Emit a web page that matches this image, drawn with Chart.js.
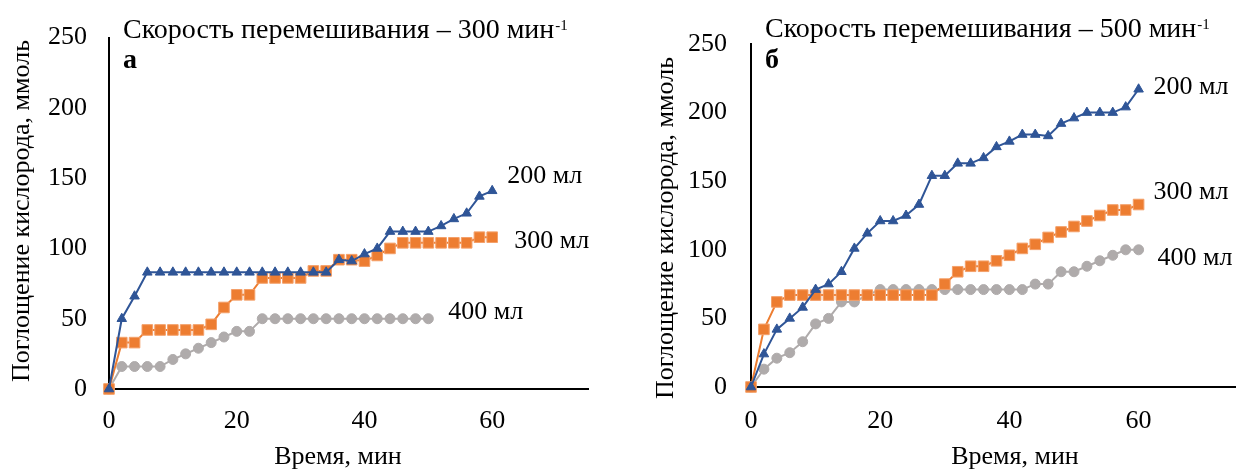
<!DOCTYPE html>
<html lang="ru">
<head>
<meta charset="utf-8">
<title>Поглощение кислорода</title>
<script src="https://cdn.jsdelivr.net/npm/chart.js@4/dist/chart.umd.min.js"></script>
<style>
  html, body { margin: 0; padding: 0; background: #fff; }
  body { width: 1244px; height: 471px; position: relative; overflow: hidden; }
  canvas { position: absolute; top: 0; }
  #chartA { left: 0; }
  #chartB { left: 640px; }
</style>
</head>
<body>
<canvas id="chartA" width="640" height="471"></canvas>
<canvas id="chartB" width="604" height="471"></canvas>
<script>
// ─── data: O2 uptake, mmol, sampled every 2 min ──────────────────────────────
const TIME     = [0, 2, 4, 6, 8, 10, 12, 14, 16, 18, 20, 22, 24, 26, 28, 30,
                  32, 34, 36, 38, 40, 42, 44, 46, 48, 50, 52, 54, 56, 58, 60];
const TIME_50  = [0, 2, 4, 6, 8, 10, 12, 14, 16, 18, 20, 22, 24, 26, 28, 30,
                  32, 34, 36, 38, 40, 42, 44, 46, 48, 50];

const SERIES   = ['200 мл', '300 мл', '400 мл'];
const X_TICKS  = [0, 20, 40, 60];
const Y_TICKS  = [0, 50, 100, 150, 200, 250];

// (а) 300 min-1
const A_200 = [0, 50, 66, 83, 83, 83, 83, 83, 83, 83, 83, 83, 83, 83, 83, 83,
               83, 83, 92, 91, 96, 100, 112, 112, 112, 112, 116, 121, 125, 137, 141];
const A_300 = [0, 33, 33, 42, 42, 42, 42, 42, 46, 58, 67, 67, 79, 79, 79, 79,
               84, 84, 92, 92, 91, 95, 100, 104, 104, 104, 104, 104, 104, 108, 108];
const A_400 = [0, 16, 16, 16, 16, 21, 25, 29, 33, 37, 41, 41, 50, 50, 50, 50,
               50, 50, 50, 50, 50, 50, 50, 50, 50, 50];

// (б) 500 min-1
const B_200 = [0, 24, 42, 50, 58, 71, 75, 84, 101, 112, 121, 121, 125, 133, 154, 154,
               163, 163, 167, 175, 179, 184, 184, 183, 192, 196, 200, 200, 200, 204, 217];
const B_300 = [0, 42, 62, 67, 67, 67, 67, 67, 67, 67, 67, 67, 67, 67, 67, 75,
               84, 88, 88, 92, 96, 101, 104, 109, 113, 117, 121, 125, 129, 129, 133];
const B_400 = [0, 13, 21, 25, 33, 46, 50, 62, 62, 67, 71, 71, 71, 71, 71, 71,
               71, 71, 71, 71, 71, 71, 75, 75, 84, 84, 88, 92, 96, 100, 100];

const SERIF = '"Liberation Serif", "Times New Roman", serif';
const BLUE = '#2F5597', ORANGE = '#ED7D31', GREY = '#AFABAB';

const pts = (xs, ys) => ys.map((y, i) => ({ x: xs[i], y }));

function makeDatasets(s200, s300, s400, x400) {
  // first dataset is painted last → blue on top
  return [
    { label: SERIES[0], data: pts(TIME, s200), borderColor: BLUE, backgroundColor: BLUE,
      pointStyle: 'triangle', pointRadius: 5.5, pointBorderWidth: 1 },
    { label: SERIES[1], data: pts(TIME, s300), borderColor: ORANGE, backgroundColor: ORANGE,
      pointStyle: 'rect', pointRadius: 7.5, pointBorderWidth: 1, pointBorderColor: '#F4A06A' },
    { label: SERIES[2], data: pts(x400, s400), borderColor: GREY, backgroundColor: GREY,
      pointStyle: 'circle', pointRadius: 5, pointBorderWidth: 1 },
  ].map(d => ({ ...d, borderWidth: 2, tension: 0, clip: false }));
}

// titles, panel letter, axis names and series names beside the last points
const panelText = {
  id: 'panelText',
  afterDatasetsDraw(chart, args, o) {
    const ctx = chart.ctx;
    ctx.save();
    ctx.fillStyle = '#000';
    ctx.textAlign = 'left';
    ctx.textBaseline = 'alphabetic';

    ctx.font = `28px ${SERIF}`;
    ctx.fillText(o.title, o.tx, o.ty);
    const w = ctx.measureText(o.title).width;
    ctx.font = `15px ${SERIF}`;
    ctx.fillText('-1', o.tx + w + 1, o.ty - 8);

    ctx.font = `bold 28px ${SERIF}`;
    ctx.fillText(o.letter, o.tx, o.ly);

    ctx.font = `26px ${SERIF}`;
    ctx.textBaseline = 'middle';
    chart.data.datasets.forEach((ds, i) => {
      const meta = chart.getDatasetMeta(i);
      const last = meta.data[meta.data.length - 1];
      const [dx, dy] = o.offsets[i];
      ctx.fillText(ds.label, last.x + dx, last.y + dy);
    });

    ctx.textAlign = 'center';
    ctx.fillText('Время, мин', o.xTitle[0], o.xTitle[1]);
    ctx.translate(o.yTitle[0], o.yTitle[1]);
    ctx.rotate(-Math.PI / 2);
    ctx.fillText('Поглощение кислорода, ммоль', 0, 0);
    ctx.restore();
  }
};

function makeChart(id, datasets, lay) {
  const tickFont = { family: SERIF, size: 26 };
  return new Chart(document.getElementById(id), {
    type: 'line',
    data: { datasets },
    options: {
      responsive: false,
      animation: false,
      events: [],
      layout: { padding: { left: 0, top: lay.top, right: lay.right, bottom: 0 } },
      plugins: { legend: { display: false }, tooltip: { enabled: false }, panelText: lay.text },
      scales: {
        x: {
          type: 'linear', min: 0, max: 75,
          afterBuildTicks: s => { s.ticks = X_TICKS.map(v => ({ value: v })); },
          afterFit: s => { s.height = lay.xHeight; },
          grid: { display: false, drawTicks: false },
          border: { display: true, color: '#000', width: 2 },
          ticks: { font: tickFont, color: '#000', padding: lay.xPad, maxRotation: 0 },
        },
        y: {
          min: 0, max: 250,
          afterBuildTicks: s => { s.ticks = Y_TICKS.map(v => ({ value: v })); },
          afterFit: s => { s.width = lay.yWidth; },
          grid: { display: false, drawTicks: false },
          border: { display: true, color: '#000', width: 2 },
          ticks: { font: tickFont, color: '#000', padding: lay.yPad },
        },
      },
    },
    plugins: [panelText],
  });
}

makeChart('chartA', makeDatasets(A_200, A_300, A_400, TIME_50), {
  top: 28, right: 52, xHeight: 82, yWidth: 109, xPad: 17, yPad: 22,
  text: {
    title: 'Скорость перемешивания – 300 мин', tx: 123, ty: 38, letter: 'а', ly: 68,
    offsets: [[15, -15], [22, 4], [20, -7]],
    xTitle: [338, 457], yTitle: [22, 211],
  },
});

makeChart('chartB', makeDatasets(B_200, B_300, B_400, TIME), {
  top: 44, right: 3, xHeight: 84, yWidth: 111, xPad: 19, yPad: 24,
  text: {
    title: 'Скорость перемешивания – 500 мин', tx: 125, ty: 37, letter: 'б', ly: 68,
    offsets: [[15, -2], [15, -12], [19, 8]],
    xTitle: [375, 457], yTitle: [26, 228],
  },
});
</script>
</body>
</html>
